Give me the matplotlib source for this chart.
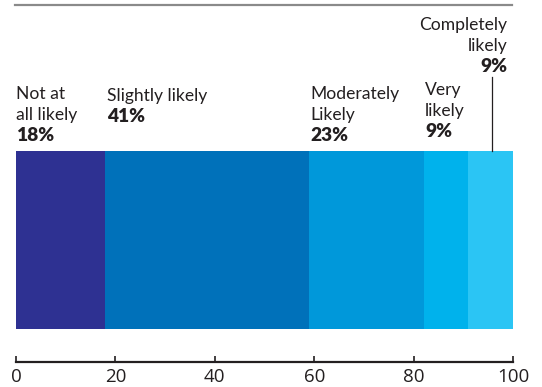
import matplotlib
matplotlib.use("Agg")
import matplotlib.pyplot as plt
from matplotlib.lines import Line2D
import numpy as np

# data
categories = ["Not at\nall likely", "Slightly likely", "Moderately\nLikely", "Very\nlikely", "Completely\nlikely"]
values = [18, 41, 23, 9, 9]
pct_labels = ["18%", "41%", "23%", "9%", "9%"]
colors = ["#2E3192", "#0071BA", "#0098DA", "#00B2EC", "#2BC5F4"]
ticks = [0, 20, 40, 60, 80, 100]

W, H, DPI = 542, 387, 100
fig = plt.figure(figsize=(W / DPI, H / DPI), dpi=DPI)
plt.rcParams['font.family'] = ['Lato', 'DejaVu Sans']

# axes box = the bar itself (pixels 16..513 x 151..329)
ax = fig.add_axes([16 / W, (H - 329) / H, 497 / W, 178 / H])
lefts = np.concatenate([[0], np.cumsum(values)[:-1]])
ax.barh([0], values, left=lefts, height=1, color=colors, linewidth=0)
ax.set_xlim(0, 100)
ax.set_ylim(-0.5, 0.5)

for s in ["top", "left", "right"]:
    ax.spines[s].set_visible(False)
ax.spines["bottom"].set_position(("outward", 33 * 72 / DPI))
ax.spines["bottom"].set_linewidth(1.6)
ax.spines["bottom"].set_color("#231F20")
ax.set_yticks([])
ax.set_xticks(ticks)
ax.set_xticklabels([str(t) for t in ticks], fontfamily="Open Sans", fontsize=13.5, color="#231F20")
ax.tick_params(axis="x", direction="in", length=4, width=1.2, color="#231F20", pad=4)

txt = "#231F20"
fs = 12.6
step = 21
# baseline offset (pixels above bar top) of the bold percent line
base_off = [10, 29, 10, 14, 79]
for i, (cat, pct) in enumerate(zip(categories, pct_labels)):
    lines = cat.split("\n")
    if i == 4:
        x, ha = 98.8, "right"
    else:
        x, ha = lefts[i] + (0.0 if i == 0 else 0.3), "left"
    ax.annotate(pct, xy=(x, 0.5), xytext=(0, base_off[i]), textcoords="offset pixels",
                ha=ha, va="baseline", fontsize=13.8, fontweight="heavy", color=txt,
                annotation_clip=False)
    for j, line in enumerate(reversed(lines)):
        ax.annotate(line, xy=(x, 0.5), xytext=(0, base_off[i] + step * (j + 1)),
                    textcoords="offset pixels", ha=ha, va="baseline", fontsize=fs,
                    color=txt, annotation_clip=False)

# leader line for "Completely likely"
lx = 95.8
ax.plot([lx, lx], [0.5, 0.5 + 74 / 178], color="#231F20", lw=0.9, clip_on=False)

# grey rule at the top
fig.add_artist(Line2D([15 / W, 512 / W], [1 - 5 / H, 1 - 5 / H], color="#8A8A8A", lw=1.6))

fig.savefig("out.png", dpi=DPI)
